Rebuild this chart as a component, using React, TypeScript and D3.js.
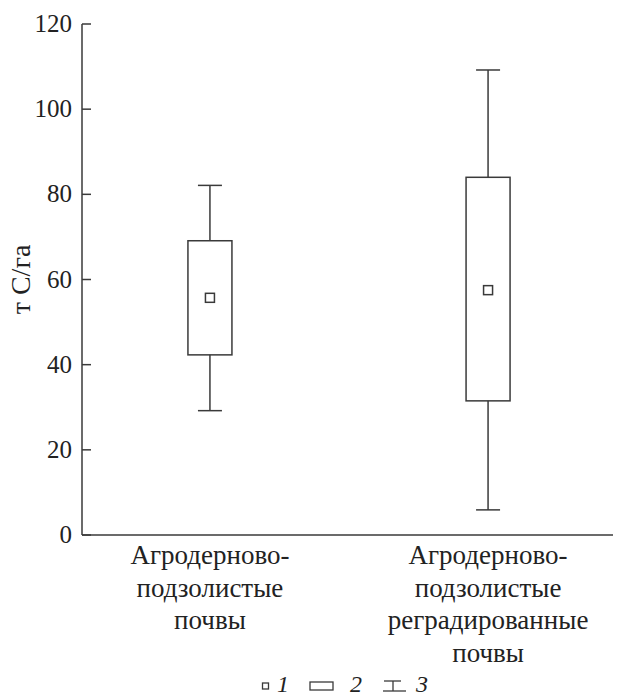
import React from "react";
import * as d3 from "d3";

const categories = ["a", "b"];
const categoryLabels = [
  ["Агродерново-", "подзолистые", "почвы"],
  ["Агродерново-", "подзолистые", "реградированные", "почвы"],
];
const whiskerLow = [29.2, 5.9];
const q1 = [42.3, 31.5];
const means = [55.7, 57.5];
const q3 = [69.1, 84.0];
const whiskerHigh = [82.1, 109.2];
const yTicks = [0, 20, 40, 60, 80, 100, 120];
const yLabel = "т С/га";
const legendLabels = ["1", "2", "3"];

const W = 621;
const H = 697;
const STROKE = "#3a3a3a";
const serif = { fontFamily: `"Liberation Serif", "Times New Roman", serif` };

export default function App() {
  const x = d3.scalePoint<string>().domain(categories).range([82, 616]).padding(0.46);
  const y = d3.scaleLinear().domain([0, 120]).range([535, 24]);
  const axisX = 82;
  const boxW = 44;
  const capW = 24;
  const mk = 9;

  return (
    <svg width={W} height={H} style={{ display: "block", margin: "-8px 0 0 -8px", background: "#fff" }}>
      {/* axes */}
      <line x1={axisX} x2={axisX} y1={y(120)} y2={y(0)} stroke={STROKE} strokeWidth={1.5} />
      <line x1={axisX} x2={W} y1={y(0)} y2={y(0)} stroke={STROKE} strokeWidth={1.5} />
      {yTicks.map((t) => (
        <g key={t}>
          <line x1={axisX} x2={axisX + 9} y1={y(t)} y2={y(t)} stroke={STROKE} strokeWidth={1.5} />
          <text x={72} y={y(t) + 8} textAnchor="end" fontSize={25} fill="#222" style={serif}>
            {String(t)}
          </text>
        </g>
      ))}
      <text
        transform={`translate(30, ${(y(0) + y(120)) / 2}) rotate(-90)`}
        textAnchor="middle"
        fontSize={28}
        fill="#222"
        style={serif}
      >
        {yLabel}
      </text>

      {/* boxes */}
      {categories.map((c, i) => {
        const cx = x(c)!;
        return (
          <g key={c} stroke={STROKE} strokeWidth={1.5} fill="none">
            <line x1={cx} x2={cx} y1={y(whiskerHigh[i])} y2={y(q3[i])} />
            <line x1={cx} x2={cx} y1={y(q1[i])} y2={y(whiskerLow[i])} />
            <line x1={cx - capW / 2} x2={cx + capW / 2} y1={y(whiskerHigh[i])} y2={y(whiskerHigh[i])} />
            <line x1={cx - capW / 2} x2={cx + capW / 2} y1={y(whiskerLow[i])} y2={y(whiskerLow[i])} />
            <rect x={cx - boxW / 2} y={y(q3[i])} width={boxW} height={y(q1[i]) - y(q3[i])} />
            <rect x={cx - mk / 2} y={y(means[i]) - mk / 2} width={mk} height={mk} />
          </g>
        );
      })}

      {/* category labels */}
      {categories.map((c, i) =>
        categoryLabels[i].map((line, j) => (
          <text
            key={c + j}
            x={x(c)!}
            y={564 + j * 32.5}
            textAnchor="middle"
            fontSize={27}
            fill="#222"
            style={serif}
          >
            {line}
          </text>
        ))
      )}

      {/* legend */}
      <g stroke={STROKE} strokeWidth={1.3} fill="none">
        <rect x={262.5} y={683} width={6} height={6} />
        <rect x={310} y={682} width={23} height={8} />
        <line x1={384} x2={401} y1={681} y2={681} />
        <line x1={393} x2={393} y1={681} y2={691} />
        <line x1={383} x2={406} y1={691} y2={691} />
      </g>
      {legendLabels.map((l, i) => (
        <text
          key={l}
          x={[277, 350, 416][i]}
          y={692}
          fontSize={24}
          fill="#222"
          style={{ ...serif, fontStyle: "italic" }}
        >
          {l}
        </text>
      ))}
    </svg>
  );
}
